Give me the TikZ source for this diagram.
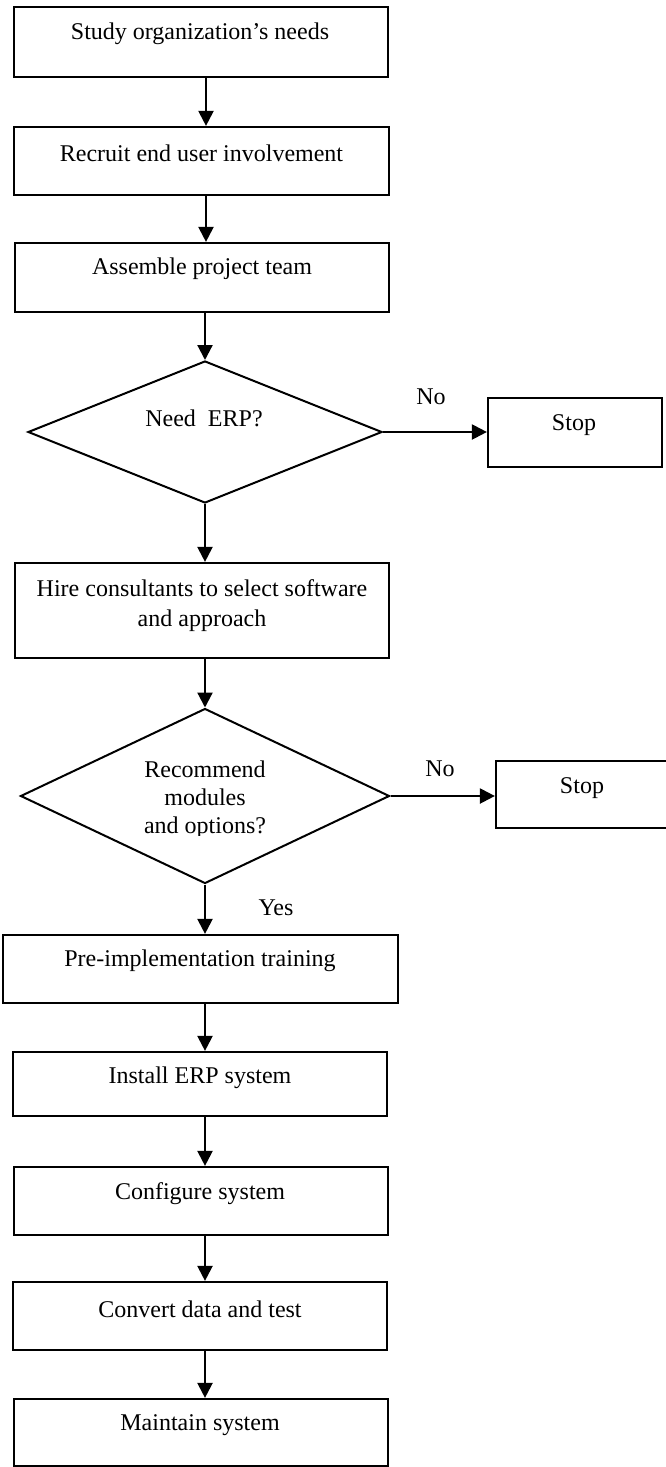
\documentclass[tikz,border=0pt]{standalone}
\usepackage{fontspec}
\setmainfont{Liberation Serif}
\usetikzlibrary{shapes.geometric,arrows.meta}
\begin{document}
\begin{tikzpicture}[x=1pt,y=-1pt,
  box/.style={draw, line width=2.2pt, rectangle, inner sep=0pt},
  dia/.style={draw, line width=2pt, diamond, inner sep=0pt},
  txt/.style={font=\fontsize{24}{29}\selectfont, inner sep=0pt, align=center},
  arr/.style={line width=2.2pt, -{Triangle[width=15pt,length=15pt]}}]
\useasboundingbox (0,0) rectangle (665,1467);
\coordinate (col) at (206,0);
% boxes
\node[box, minimum width=374, minimum height=70] (b1) at (201,42) {};
\node[box, minimum width=375, minimum height=68] (b2) at (201.5,161) {};
\node[box, minimum width=374, minimum height=69] (b3) at (202,277.5) {};
\node[dia, minimum width=354, minimum height=142] (d1) at (205,432) {};
\node[box, minimum width=174, minimum height=69] (s1) at (575,432.5) {};
\node[box, minimum width=374, minimum height=95] (b4) at (202,610.5) {};
\node[dia, minimum width=369, minimum height=175] (d2) at (205,796) {};
\node[box, minimum width=176, minimum height=67] (s2) at (584,794.5) {};
\node[box, minimum width=395, minimum height=68] (b5) at (200.5,969) {};
\node[box, minimum width=374, minimum height=64] (b6) at (200,1084) {};
\node[box, minimum width=374, minimum height=68] (b7) at (201,1201) {};
\node[box, minimum width=374, minimum height=68] (b8) at (200,1316) {};
\node[box, minimum width=374, minimum height=67] (b9) at (201,1432.5) {};
% texts
\node[txt] (t1) at (200,34) {Study organization’s needs};
\node[txt] (t2) at (201.5,153) {Recruit end user involvement};
\node[txt] (t3) at (202,269) {Assemble project team};
\node[txt] (td1) at (204,418) {Need\ \ ERP?};
\node[txt] (ts1) at (574,425) {Stop};
\node[txt, font=\fontsize{24}{30}\selectfont] (t4) at (202,606) {Hire consultants to select software\\and approach};
\begin{scope}
\clip (0,700) rectangle (665,835);
\node[txt, font=\fontsize{24}{28}\selectfont] (td2) at (205,800) {Recommend\\modules\\and options?};
\end{scope}
\node[txt] (ts2) at (582,788) {Stop};
\node[txt] (t5) at (200,961) {Pre-implementation training};
\node[txt] (t6) at (200,1078) {Install ERP system};
\node[txt] (t7) at (200,1194) {Configure system};
\node[txt] (t8) at (200,1309) {Convert data and test};
\node[txt] (t9) at (200,1425) {Maintain system};
\node[txt] (no1) at (431,397) {No};
\node[txt] (no2) at (440,769) {No};
\node[txt] (yes) at (276,908) {Yes};
% arrows
\draw[arr] (b1.south -| col) -- (b2.north -| col);
\draw[arr] (b2.south -| col) -- (b3.north -| col);
\draw[arr] (b3.south -| d1.north) -- (d1.north);
\draw[arr] (d1.east) -- (s1.west |- d1.east);
\draw[arr] (d1.south) -- (b4.north -| d1.south);
\draw[arr] (b4.south -| d2.north) -- (d2.north);
\draw[arr] (d2.east) -- (s2.west |- d2.east);
\draw[arr] (d2.south) -- (b5.north -| d2.south);
\draw[arr] (b5.south -| d2.south) -- (b6.north -| d2.south);
\draw[arr] (b6.south -| d2.south) -- (b7.north -| d2.south);
\draw[arr] (b7.south -| d2.south) -- (b8.north -| d2.south);
\draw[arr] (b8.south -| d2.south) -- (b9.north -| d2.south);
\end{tikzpicture}
\end{document}
